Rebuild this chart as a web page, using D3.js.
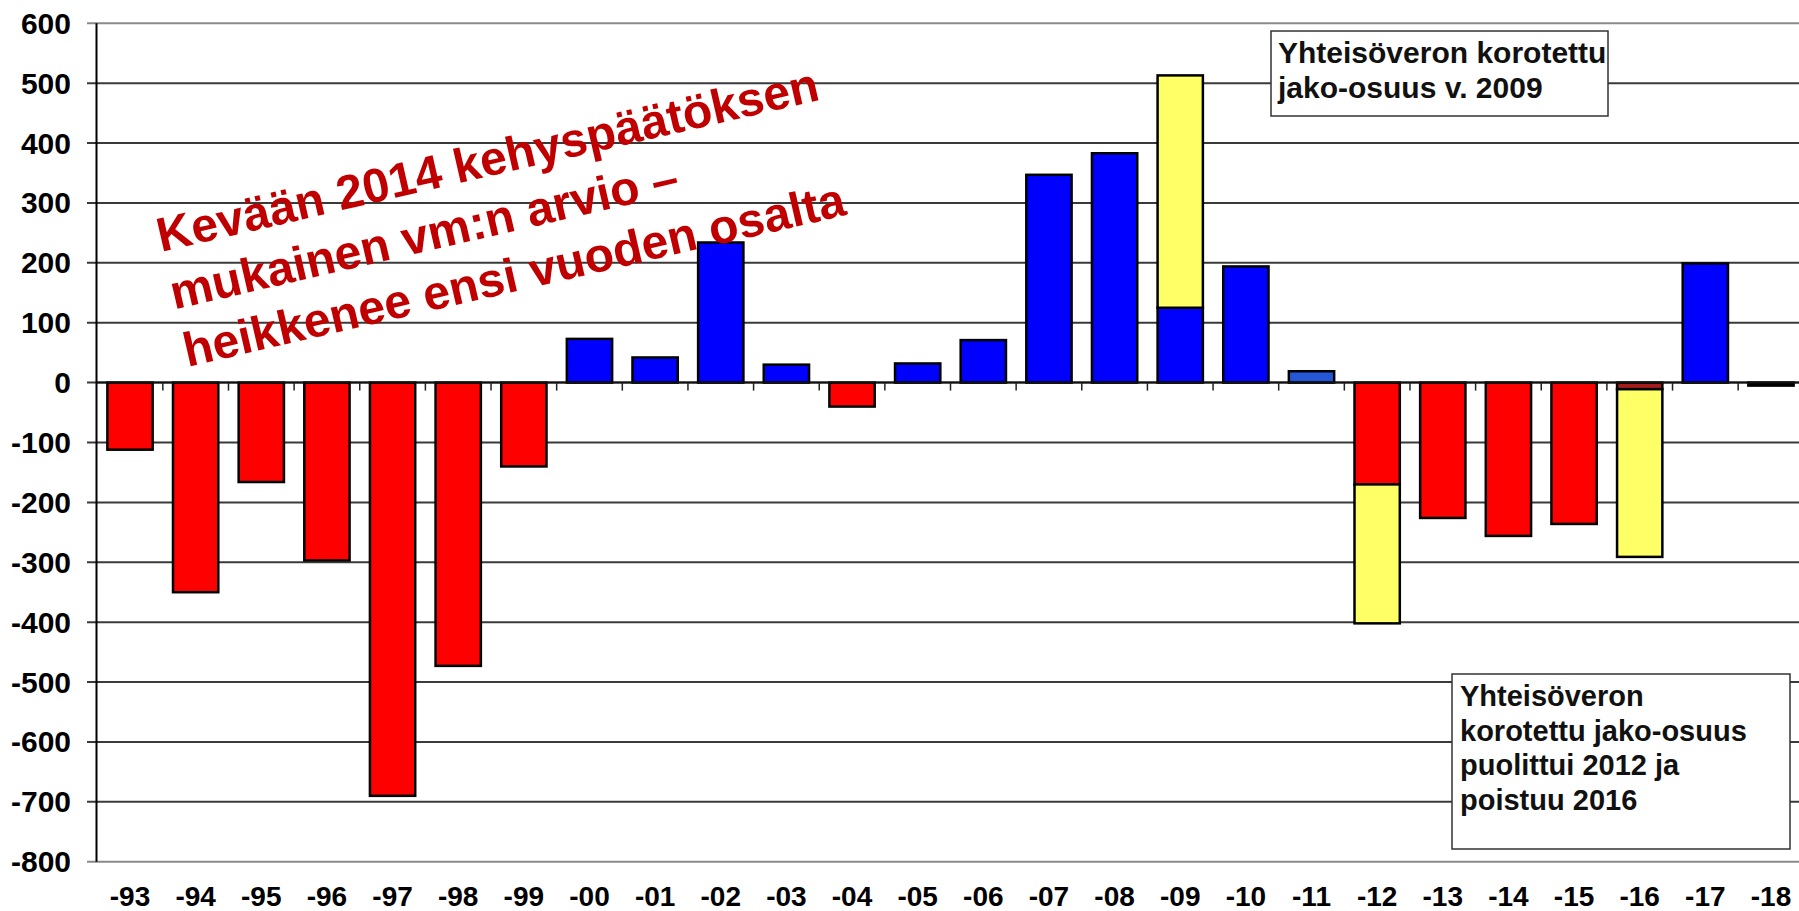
<!DOCTYPE html>
<html>
<head>
<meta charset="utf-8">
<script src="https://cdn.jsdelivr.net/npm/d3@7"></script>
<style>
  body { margin: 0; background: #fff; }
  svg text { font-family: "Liberation Sans", Arial, sans-serif; font-weight: bold; }
</style>
</head>
<body>
<svg id="chart"></svg>
<script>
// data
var years = ["-93","-94","-95","-96","-97","-98","-99","-00","-01","-02","-03","-04","-05",
             "-06","-07","-08","-09","-10","-11","-12","-13","-14","-15","-16","-17","-18"];
var baseValues = [-112,-350,-166,-297,-690,-473,-140,73,42,234,30,-40,32,
                  71,347,383,125,194,19,-170,-226,-256,-236,-11,199,-5];
// korotettu jako-osuus (yellow part)
var extraValues = [0,0,0,0,0,0,0,0,0,0,0,0,0,
                   0,0,0,388,0,0,-232,0,0,0,-280,0,0];
var yTickValues = [600,500,400,300,200,100,0,-100,-200,-300,-400,-500,-600,-700,-800];
var note1Lines = ["Yhteisöveron korotettu", "jako-osuus v. 2009"];
var note2Lines = ["Yhteisöveron", "korotettu jako-osuus", "puolittui 2012 ja", "poistuu 2016"];
var bigLines = ["Kevään 2014 kehyspäätöksen", "mukainen vm:n arvio –", "heikkenee ensi vuoden osalta"];

// basic settings
var width = 1799;
var height = 911;
var svg = d3.select("#chart").attr("width", width).attr("height", height);

var x = d3.scaleBand().domain(years).range([97.2, 1803.8]).paddingInner(0.31).paddingOuter(0.155);
var y = d3.scaleLinear().domain([-800, 600]).range([861.7, 23.3]);

var red = "#ff0000", blue = "#0000ff", yellow = "#ffff66";
var special = { "-11": "#2456d6", "-16": "#a41c1c", "-18": "#000000" };
function baseColor(d) {
    if (special[d.data.year]) return special[d.data.year];
    return d.data.base < 0 ? red : blue;
}

var rows = years.map(function(yr, i) {
    return { year: yr, base: baseValues[i], extra: extraValues[i] };
});
var stack = d3.stack().keys(["base", "extra"]).offset(d3.stackOffsetDiverging);
var series = stack(rows);

// grid lines
svg.append("g").selectAll("line")
    .data(yTickValues)
    .enter().append("line")
    .attr("x1", 87).attr("x2", width)
    .attr("y1", function(d) { return y(d); })
    .attr("y2", function(d) { return y(d); })
    .attr("stroke", function(d) { return (d == 600 || d == -800) ? "#8a8a8a" : "#3a3a3a"; })
    .attr("stroke-width", 2);

// y labels
svg.append("g").selectAll("text")
    .data(yTickValues)
    .enter().append("text")
    .attr("x", 71)
    .attr("y", function(d) { return y(d); })
    .attr("text-anchor", "end")
    .attr("dominant-baseline", "central")
    .style("font-size", "30px")
    .attr("fill", "#000")
    .text(function(d) { return d; });

// y axis line
svg.append("line")
    .attr("x1", 96.5).attr("x2", 96.5)
    .attr("y1", y(600)).attr("y2", y(-800))
    .attr("stroke", "#000").attr("stroke-width", 2);

// bars
var colors = { base: baseColor, extra: function() { return yellow; } };
series.forEach(function(s) {
    svg.append("g").selectAll("rect")
        .data(s.filter(function(d) { return d[1] - d[0] != 0; }))
        .enter().append("rect")
        .attr("x", function(d) { return x(d.data.year); })
        .attr("width", x.bandwidth())
        .attr("y", function(d) { return y(Math.max(d[0], d[1])); })
        .attr("height", function(d) { return Math.abs(y(d[0]) - y(d[1])); })
        .attr("fill", colors[s.key])
        .attr("stroke", "#000")
        .attr("stroke-width", 2.5);
});

// zero line with category ticks
svg.append("line")
    .attr("x1", 96.5).attr("x2", width)
    .attr("y1", y(0)).attr("y2", y(0))
    .attr("stroke", "#111").attr("stroke-width", 2);
svg.append("g").selectAll("line")
    .data(years.slice(1))
    .enter().append("line")
    .attr("x1", function(d) { return x(d) - x.step() * x.paddingInner() / 2; })
    .attr("x2", function(d) { return x(d) - x.step() * x.paddingInner() / 2; })
    .attr("y1", y(0)).attr("y2", y(0) + 8)
    .attr("stroke", "#222").attr("stroke-width", 1.5);

// x labels
svg.append("g").selectAll("text")
    .data(years)
    .enter().append("text")
    .attr("x", function(d) { return x(d) + x.bandwidth() / 2; })
    .attr("y", 906)
    .attr("text-anchor", "middle")
    .style("font-size", "28px")
    .text(function(d) { return d; });

// text boxes
function noteBox(lines, bx, by, bw, bh, tx, ty, lh, fs) {
    var g = svg.append("g");
    g.append("rect")
        .attr("x", bx).attr("y", by).attr("width", bw).attr("height", bh)
        .attr("fill", "#fff").attr("stroke", "#333").attr("stroke-width", 1.5);
    g.selectAll("text")
        .data(lines)
        .enter().append("text")
        .attr("x", tx)
        .attr("y", function(d, i) { return ty + i * lh; })
        .style("font-size", fs + "px")
        .attr("fill", "#111")
        .text(function(d) { return d; });
}
noteBox(note1Lines, 1271, 31, 337, 85, 1278, 63, 34.5, 30);
noteBox(note2Lines, 1452, 674, 338, 175, 1460, 706, 34.5, 29);

// big rotated red annotation
var big = svg.append("g").attr("transform", "translate(161,252) rotate(-13)");
big.selectAll("text")
    .data(bigLines)
    .enter().append("text")
    .attr("x", 0)
    .attr("y", function(d, i) { return i * 59; })
    .style("font-size", "48px")
    .attr("fill", "#c00000")
    .text(function(d) { return d; });
</script>
</body>
</html>
